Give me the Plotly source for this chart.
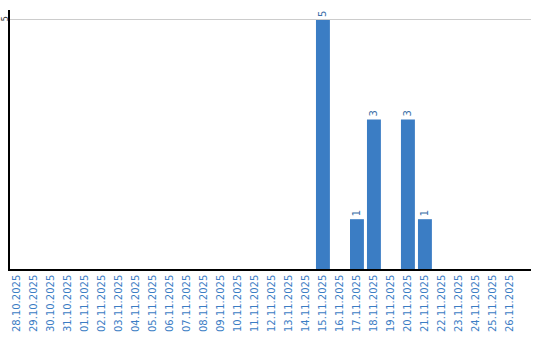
import plotly.graph_objects as go

dates = ["28.10.2025", "29.10.2025", "30.10.2025", "31.10.2025",
         "01.11.2025", "02.11.2025", "03.11.2025", "04.11.2025", "05.11.2025",
         "06.11.2025", "07.11.2025", "08.11.2025", "09.11.2025", "10.11.2025",
         "11.11.2025", "12.11.2025", "13.11.2025", "14.11.2025", "15.11.2025",
         "16.11.2025", "17.11.2025", "18.11.2025", "19.11.2025", "20.11.2025",
         "21.11.2025", "22.11.2025", "23.11.2025", "24.11.2025", "25.11.2025",
         "26.11.2025"]
counts = [None, None, None, None,
          None, None, None, None, None,
          None, None, None, None, None,
          None, None, None, None, 5,
          None, 1, 3, None, 3,
          1, None, None, None, None,
          None]

blue = "#3b7dc4"

fig = go.Figure(go.Bar(
    x=dates, y=counts,
    marker=dict(color=blue, line=dict(width=0)),
    text=[str(v) if v is not None else "" for v in counts],
    textposition="outside", textangle=-90,
    textfont=dict(color="#3b6fa8", size=10, family="DejaVu Sans"),
    cliponaxis=False,
))

fig.update_layout(
    width=540, height=340,
    margin=dict(l=10, r=9, t=10, b=71),
    paper_bgcolor="white", plot_bgcolor="white",
    bargap=0.18,
    showlegend=False,
    xaxis=dict(
        type="category", range=[-0.41, 30.24], automargin=False,
        tickangle=-90, tickfont=dict(color=blue, size=10, family="DejaVu Sans"),
        showline=True, linecolor="black", linewidth=1.5,
        showgrid=False, ticks="", ticklen=0,
    ),
    yaxis=dict(
        range=[0, 5.2], tickvals=[5], ticktext=["5"], automargin=False,
        tickangle=-90, tickfont=dict(color="#333", size=8, family="DejaVu Sans"),
        ticklabelstandoff=-3,
        showline=True, linecolor="black", linewidth=1.5,
        showgrid=True, gridcolor="#cccccc", gridwidth=1,
        zeroline=False, ticks="", ticklen=0,
    ),
)

fig.write_html("out.html")
